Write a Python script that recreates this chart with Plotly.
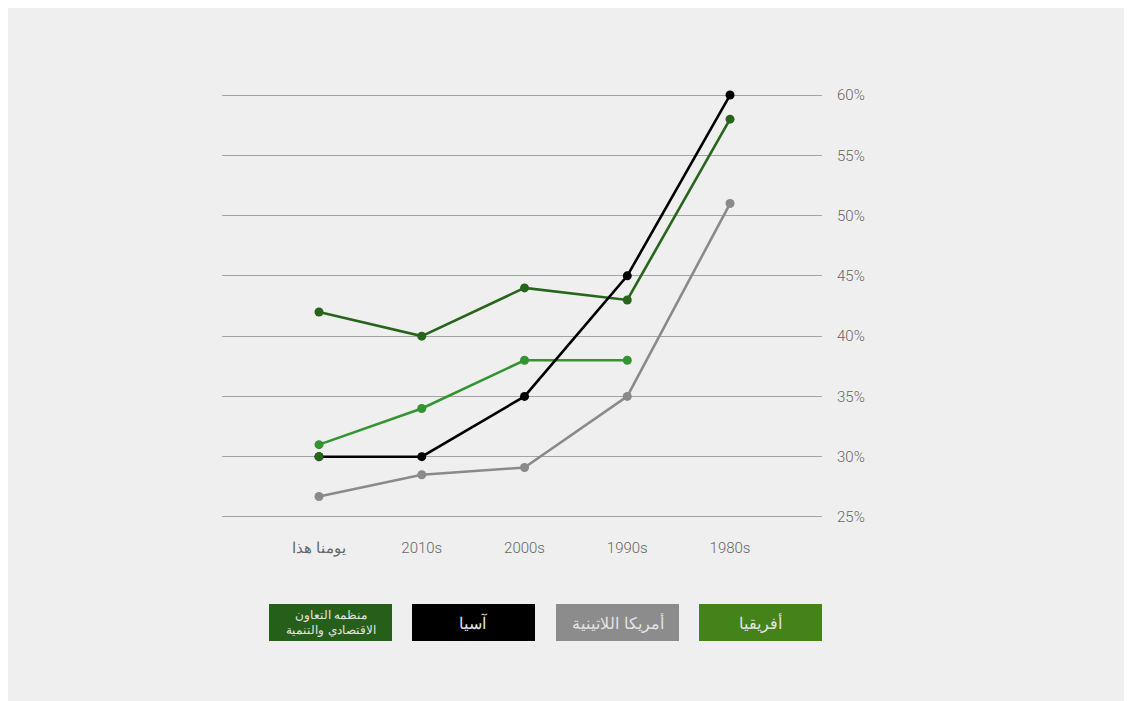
import plotly.graph_objects as go

categories = ["يومنا هذا", "2010s", "2000s", "1990s", "1980s"]
asia = [30, 30, 35, 45, 60]
oecd = [42, 40, 44, 43, 58]
africa = [31, 34, 38, 38, None]
latam = [26.7, 28.5, 29.1, 35, 51]
extra_x = ["يومنا هذا"]
extra_y = [30]
y_ticks = [25, 30, 35, 40, 45, 50, 55, 60]
y_labels = [f"{v}%" for v in y_ticks]

legend_names = ["منظمه التعاون<br>الاقتصادي والتنمية", "آسيا", "أمريكا اللاتينية", "أفريقيا"]
legend_colors = ["#265f1a", "#000000", "#8c8c8c", "#44821a"]
legend_sizes = [11.5, 16, 16, 16]

OFF = 8  # page body margin
W, H = 1132, 701
L, R, T, B = 222 - OFF, 822 - OFF, 89 - OFF, 523 - OFF

fig = go.Figure()

def add(y, color, x=categories):
    fig.add_trace(go.Scatter(
        x=x, y=y, mode="lines+markers",
        line=dict(color=color, width=2.6),
        marker=dict(color=color, size=9),
        cliponaxis=False, showlegend=False, connectgaps=False,
    ))

add(latam, "#8a8a8a")
add(africa, "#339432")
add(oecd, "#28651c")
add(asia, "#000000")
add(extra_y, "#28651c", x=extra_x)

def px_x(p):
    return (p - OFF - L) / (R - L)

def px_y(p):
    return (B - (p - OFF)) / (B - T)

shapes = []
annotations = []
box_left = [269, 412, 556, 699]
for i, (name, col, fs) in enumerate(zip(legend_names, legend_colors, legend_sizes)):
    x0, x1 = box_left[i], box_left[i] + 123
    shapes.append(dict(type="rect", xref="paper", yref="paper",
                       x0=px_x(x0), x1=px_x(x1), y0=px_y(641), y1=px_y(604),
                       fillcolor=col, line=dict(width=0)))
    annotations.append(dict(xref="paper", yref="paper", x=px_x((x0 + x1) / 2), y=px_y(622.5),
                            text=name, showarrow=False, xanchor="center", yanchor="middle",
                            font=dict(size=fs, color="#e3e3e3", family="DejaVu Sans, sans-serif",
                                      weight=300),
                            align="center"))

tick_font = dict(size=15, color="#666666", weight=300)

fig.update_layout(
    width=W, height=H,
    margin=dict(l=L, r=W - R, t=T, b=H - B, pad=0),
    paper_bgcolor="#efefef", plot_bgcolor="rgba(0,0,0,0)",
    font=dict(family="Roboto, DejaVu Sans, sans-serif", color="#666666", size=14),
    shapes=shapes, annotations=annotations,
    xaxis=dict(type="category", categoryorder="array", categoryarray=categories,
               range=[-0.944, 4.895], showgrid=False, zeroline=False, showline=False,
               ticks="", tickfont=tick_font, ticklabelstandoff=14),
    yaxis=dict(range=[24.5, 60.5], side="right", tickvals=y_ticks, ticktext=y_labels,
               showgrid=True, gridcolor="#a3a3a3", gridwidth=1, zeroline=False,
               showline=False, ticks="", tickfont=tick_font,
               ticklabelstandoff=14),
)

fig.write_html("out.html")
